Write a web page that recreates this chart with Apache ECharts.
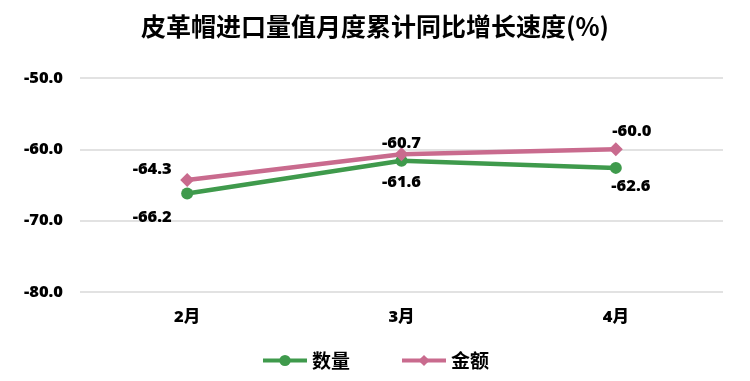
<!DOCTYPE html>
<html><head><meta charset="utf-8">
<script src="https://cdn.jsdelivr.net/npm/echarts@6/dist/echarts.min.js"></script>
<style>html,body{margin:0;padding:0;background:#fff}#c{width:750px;height:381px}</style>
</head><body><div id="c"></div>
<script>
const categories = ['2月', '3月', '4月'];
const qtyValues = [-66.2, -61.6, -62.6];
const amtValues = [-64.3, -60.7, -60.0];
const yTicks = [-80, -70, -60, -50];

const FONT = '"Open Sans", "Noto Sans CJK SC", sans-serif';
const qtyLabelOffsets = [[-35, 24], [0, 22], [15, 18]];
const amtLabelOffsets = [[-35, -11], [0, -11], [16, -18]];

const chart = echarts.init(document.getElementById('c'));
chart.setOption({
  animation: false,
  title: {
    text: '皮革帽进口量值月度累计同比增长速度(%)',
    left: 'center', top: 9,
    textStyle: { fontFamily: '"Noto Sans CJK SC", sans-serif', fontSize: 25, fontWeight: 'bold', color: '#000' }
  },
  legend: {
    bottom: 6, left: 'center', itemGap: 50, itemWidth: 44, itemHeight: 14,
    lineStyle: { width: 4 },
    textStyle: { fontFamily: '"Noto Sans CJK SC", sans-serif', fontSize: 19, fontWeight: 'bold', color: '#000' },
    data: ['数量', '金额']
  },
  grid: { left: 80, right: 27, top: 78, bottom: 89, containLabel: false },
  xAxis: {
    type: 'category', data: categories,
    axisLine: { show: false }, axisTick: { show: false },
    axisLabel: { fontFamily: FONT, fontSize: 16.5, fontWeight: 800, color: '#000', margin: 17 }
  },
  yAxis: {
    type: 'value', min: yTicks[0], max: yTicks[yTicks.length - 1], interval: 10,
    axisLine: { show: false }, axisTick: { show: false },
    splitLine: { lineStyle: { color: '#d9d9d9', width: 1.5 } },
    axisLabel: { fontFamily: FONT, fontSize: 16.5, fontWeight: 800, color: '#000', margin: 17,
      formatter: v => v.toFixed(1) }
  },
  series: [
    {
      name: '数量', type: 'line', data: qtyValues.map((v, i) => ({ value: v,
        label: { offset: qtyLabelOffsets[i] } })),
      symbol: 'circle', symbolSize: 12,
      lineStyle: { color: '#3f9a4c', width: 4.5 }, itemStyle: { color: '#3f9a4c' },
      label: { show: true, position: 'inside', fontFamily: FONT, fontSize: 16.5, fontWeight: 800, color: '#000',
        formatter: p => p.value.toFixed(1) }
    },
    {
      name: '金额', type: 'line', data: amtValues.map((v, i) => ({ value: v,
        label: { offset: amtLabelOffsets[i] } })),
      symbol: 'diamond', symbolSize: 14,
      lineStyle: { color: '#c96b8e', width: 4.5 }, itemStyle: { color: '#c96b8e' },
      label: { show: true, position: 'inside', fontFamily: FONT, fontSize: 16.5, fontWeight: 800, color: '#000',
        formatter: p => p.value.toFixed(1) }
    }
  ]
});
</script></body></html>
